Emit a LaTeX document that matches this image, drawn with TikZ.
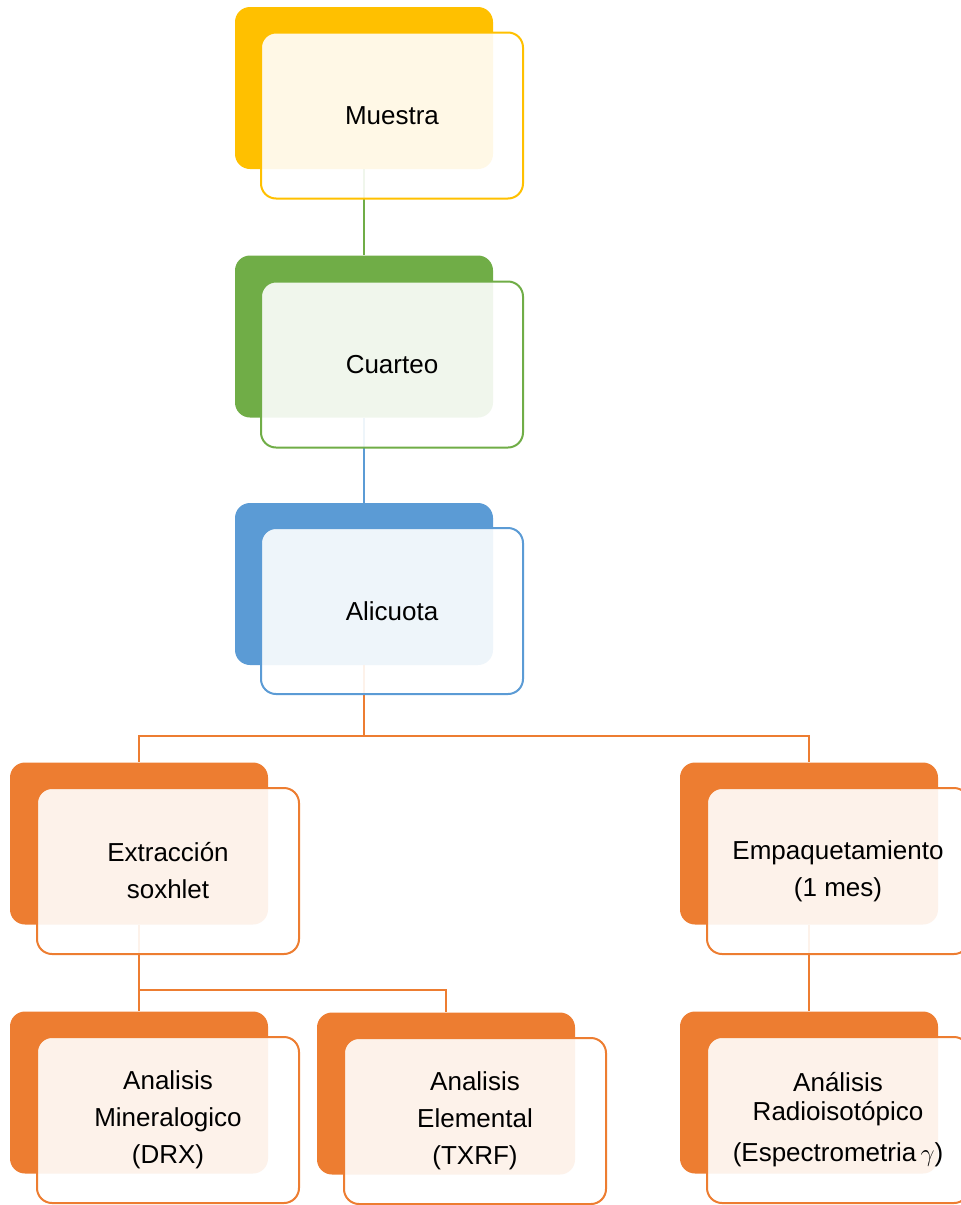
\documentclass[tikz,border=0pt]{standalone}
\usepackage{fontspec}
\setmainfont{Liberation Sans}
\usepackage{tikz}
\usetikzlibrary{calc}

\definecolor{cyellow}{HTML}{FFC000}
\definecolor{cgreen}{HTML}{70AD47}
\definecolor{cblue}{HTML}{5B9BD5}
\definecolor{corange}{HTML}{ED7D31}

\begin{document}
\begin{tikzpicture}[x=1pt,y=-1pt]
            \tikzset{back/.style = {shape=rectangle,rounded corners=15pt,fill=#1,
                minimum width=258pt,minimum height=162pt}}
            \tikzset{front/.style = {shape=rectangle,rounded corners=15pt,draw=#1,line width=2pt,
                fill=white,fill opacity=0.9,text opacity=1,minimum width=262pt,minimum height=166pt,
                align=center,font=\fontsize{26}{37}\selectfont}}
            \tikzset{link/.style = {draw=#1,line width=2pt}}

            \useasboundingbox (0,0) rectangle (961,1205);

            % back boxes
            \node[back=cyellow] (muestra) at (364, 88) {};
            \node[back=cgreen] (cuarteo) at (364, 336.5) {};
            \node[back=cblue] (alicuota) at (364, 584) {};
            \node[back=corange] (extraccion) at (139, 843.5) {};
            \node[back=corange] (empaque) at (809, 843.5) {};
            \node[back=corange] (mineral) at (139, 1092.5) {};
            \node[back=corange] (elemental) at (446, 1093.5) {};
            \node[back=corange] (radio) at (809, 1092.5) {};

            \coordinate (split) at (364, 736);
            \coordinate (splitb) at (139, 990);

            % connectors
            \draw[link=cgreen] (muestra) -- (cuarteo);
            \draw[link=cblue] (cuarteo) -- (alicuota);
            \draw[link=corange] (alicuota) -- (split);
            \draw[link=corange] (split) -| (extraccion);
            \draw[link=corange] (split) -| (empaque);
            \draw[link=corange] (extraccion) -- (splitb);
            \draw[link=corange] (splitb) -- (mineral);
            \draw[link=corange] (splitb) -| (elemental);
            \draw[link=corange] (empaque) -- (radio);

            % front boxes
            \node[front=cyellow] (muestraF) at (392, 115.5) {Muestra};
            \node[front=cgreen] (cuarteoF) at (392, 364.5) {Cuarteo};
            \node[front=cblue] (alicuotaF) at (392, 611) {Alicuota};
            \node[front=corange] (extraccionF) at (168, 871) {Extracción\\soxhlet};
            \node[front=corange] (empaqueF) at (838, 871) {Empaquetamiento\\(1 mes)};
            \node[front=corange] (mineralF) at (168, 1120) {Analisis\\Mineralogico\\(DRX)};
            \node[front=corange] (elementalF) at (475, 1121) {Analisis\\Elemental\\(TXRF)};
            \node[front=corange] (radioF) at (838, 1120) {Análisis\\[-8pt]Radioisotópico\\[4pt](Espectrometria\,$\gamma$)};
          \end{tikzpicture}
\end{document}
